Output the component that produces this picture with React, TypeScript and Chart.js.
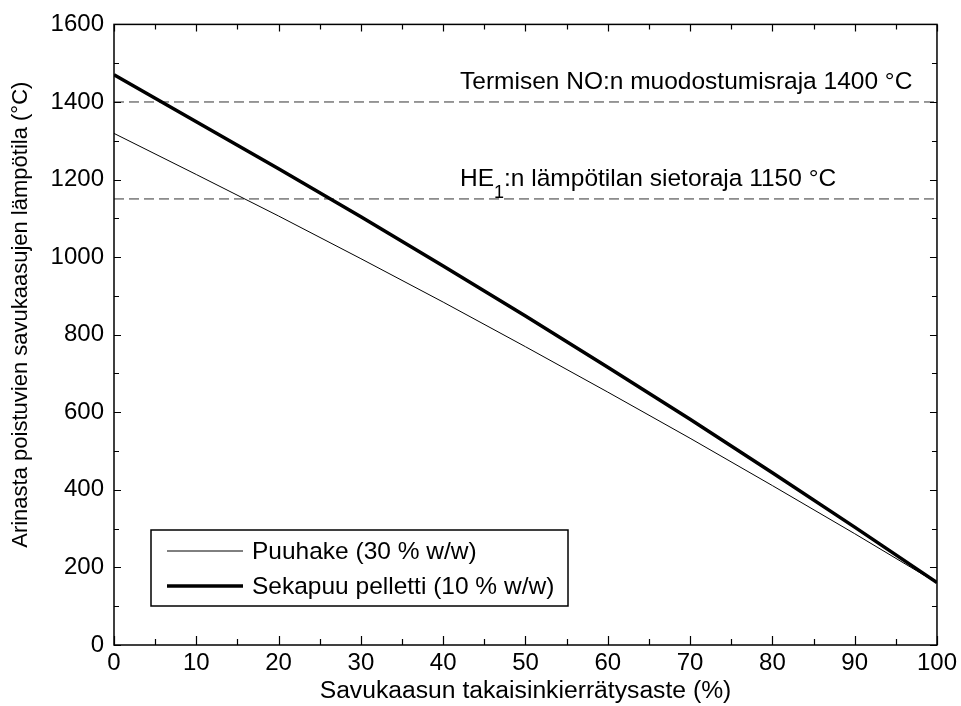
import React, { useEffect, useRef } from "react";
import { Chart, registerables } from "chart.js";

Chart.register(...registerables);

// ---- data ----
const recirculationRate = [0, 10, 20, 30, 40, 50, 60, 70, 80, 90, 100];
const puuhakeTemp = [1319, 1213, 1106, 996, 884, 769, 652, 533, 411, 287, 160];
const sekapuuTemp = [1470, 1349, 1228, 1104, 977, 848, 716, 582, 444, 304, 161];
const limitTemps = [1400, 1150];
const noxLabel = ["Termisen NO:n muodostumisraja 1400 °C"];
const he1LabelParts = ["HE", "1", ":n lämpötilan sietoraja 1150 °C"];
const seriesNames = ["Puuhake (30 % w/w)", "Sekapuu pelletti (10 % w/w)"];
const xTitle = "Savukaasun takaisinkierrätysaste (%)";
const yTitle = "Arinasta poistuvien savukaasujen lämpötila (°C)";
const xRange = [0, 100];
const yRange = [0, 1600];
const xStep = 10;
const yStep = 200;

const FONT = "'Liberation Sans', Arial, sans-serif";

const framePlugin = {
  id: "frameAndExtras",
  afterDraw(chart: any) {
    const { ctx, chartArea, scales } = chart;
    const xs = scales.x;
    const ys = scales.y;
    const { left, right, top, bottom } = chartArea;
    ctx.save();
    // frame
    ctx.strokeStyle = "#000";
    ctx.lineWidth = 1.5;
    ctx.strokeRect(left, top, right - left, bottom - top);
    // ticks (inside, major + minor)
    ctx.lineWidth = 1.2;
    ctx.beginPath();
    for (let v = xRange[0]; v <= xRange[1]; v += xStep / 2) {
      const px = Math.round(xs.getPixelForValue(v)) + 0.5;
      const major = v % xStep === 0;
      const len = major ? 9 : 6;
      ctx.moveTo(px, bottom);
      ctx.lineTo(px, bottom - len);
      const lenT = major ? 7 : 5;
      ctx.moveTo(px, top);
      ctx.lineTo(px, top + lenT);
    }
    for (let v = yRange[0]; v <= yRange[1]; v += yStep / 2) {
      const py = Math.round(ys.getPixelForValue(v)) + 0.5;
      const major = v % yStep === 0;
      const len = major ? 7 : 5;
      ctx.moveTo(left, py);
      ctx.lineTo(left + len, py);
      ctx.moveTo(right, py);
      ctx.lineTo(right - len, py);
    }
    ctx.stroke();

    // limit annotations
    ctx.fillStyle = "#000";
    ctx.textAlign = "left";
    ctx.textBaseline = "alphabetic";
    const labelX = left + 346;
    ctx.font = `24.5px ${FONT}`;
    const y1 = ys.getPixelForValue(limitTemps[0]) - 13;
    ctx.fillText(noxLabel[0], labelX, y1);
    const y2 = ys.getPixelForValue(limitTemps[1]) - 13;
    ctx.font = `24.5px ${FONT}`;
    ctx.fillText(he1LabelParts[0], labelX, y2);
    let cx = labelX + ctx.measureText(he1LabelParts[0]).width;
    ctx.font = `18px ${FONT}`;
    ctx.fillText(he1LabelParts[1], cx, y2 + 12);
    cx += ctx.measureText(he1LabelParts[1]).width;
    ctx.font = `24.5px ${FONT}`;
    ctx.fillText(he1LabelParts[2], cx, y2);

    // legend
    const lgLeft = left + 37;
    const lgTop = bottom - 115;
    const lgW = 417;
    const lgH = 76;
    ctx.fillStyle = "#fff";
    ctx.fillRect(lgLeft, lgTop, lgW, lgH);
    ctx.strokeStyle = "#000";
    ctx.lineWidth = 1.5;
    ctx.strokeRect(lgLeft, lgTop, lgW, lgH);
    const rows = [lgTop + 21, lgTop + 56];
    chart.data.datasets.slice(0, 2).forEach((ds: any, i: number) => {
      ctx.strokeStyle = ds.borderColor;
      ctx.lineWidth = ds.borderWidth;
      ctx.setLineDash([]);
      ctx.beginPath();
      ctx.moveTo(lgLeft + 16, rows[i]);
      ctx.lineTo(lgLeft + 92, rows[i]);
      ctx.stroke();
      ctx.fillStyle = "#000";
      ctx.font = `24.5px ${FONT}`;
      ctx.textBaseline = "middle";
      ctx.fillText(ds.label, lgLeft + 101, rows[i] + 1);
    });

    // y axis title
    ctx.save();
    ctx.translate(21, (top + bottom) / 2 - 20);
    ctx.rotate(-Math.PI / 2);
    ctx.font = `22px ${FONT}`;
    ctx.textAlign = "center";
    ctx.textBaseline = "middle";
    ctx.fillStyle = "#000";
    ctx.fillText(yTitle, 0, 0);
    ctx.restore();

    ctx.restore();
  },
};

export default function App() {
  const canvasRef = useRef<HTMLCanvasElement | null>(null);

  useEffect(() => {
    const canvas = canvasRef.current;
    if (!canvas) return;
    const toPoints = (ys: number[]) => recirculationRate.map((x, i) => ({ x, y: ys[i] }));
    const limitLine = (v: number) => [
      { x: xRange[0], y: v },
      { x: xRange[1], y: v },
    ];
    const chart = new Chart(canvas, {
      type: "line",
      data: {
        datasets: [
          {
            label: seriesNames[0],
            data: toPoints(puuhakeTemp),
            borderColor: "#000",
            borderWidth: 1,
            pointRadius: 0,
            tension: 0,
            order: 1,
          },
          {
            label: seriesNames[1],
            data: toPoints(sekapuuTemp),
            borderColor: "#000",
            borderWidth: 3.5,
            pointRadius: 0,
            tension: 0,
            order: 0,
          },
          ...limitTemps.map((t) => ({
            label: `limit ${t}`,
            data: limitLine(t),
            borderColor: "#333",
            borderWidth: 1,
            borderDash: [10, 5],
            pointRadius: 0,
            order: 2,
          })),
        ],
      },
      options: {
        responsive: false,
        animation: false,
        devicePixelRatio: 1,
        layout: { padding: { top: 21, right: 23, left: 0, bottom: 0 } },
        plugins: {
          legend: { display: false },
          tooltip: { enabled: false },
          title: { display: false },
        },
        scales: {
          x: {
            type: "linear",
            min: xRange[0],
            max: xRange[1],
            grid: { display: false, drawTicks: false },
            border: { display: false },
            ticks: {
              stepSize: xStep,
              color: "#000",
              padding: 4,
              font: { family: FONT, size: 24 },
              maxRotation: 0,
              callback: (v: any) => String(v),
            },
            title: {
              display: true,
              text: xTitle,
              color: "#000",
              font: { family: FONT, size: 24.7 },
              padding: { top: 0, bottom: 0 },
            },
            afterFit: (scale: any) => {
              scale.height = 61;
            },
          },
          y: {
            type: "linear",
            min: yRange[0],
            max: yRange[1],
            grid: { display: false, drawTicks: false },
            border: { display: false },
            ticks: {
              stepSize: yStep,
              color: "#000",
              padding: 10,
              font: { family: FONT, size: 24 },
              callback: (v: any) => String(v),
            },
            title: { display: false },
            afterFit: (scale: any) => {
              scale.width = 114;
            },
          },
        },
      },
      plugins: [framePlugin],
    } as any);
    return () => chart.destroy();
  }, []);

  return (
    <div style={{ position: "absolute", left: 0, top: 0, width: 961, height: 706, background: "#fff" }}>
      <canvas ref={canvasRef} width={961} height={706} style={{ width: 961, height: 706, display: "block" }} />
    </div>
  );
}
